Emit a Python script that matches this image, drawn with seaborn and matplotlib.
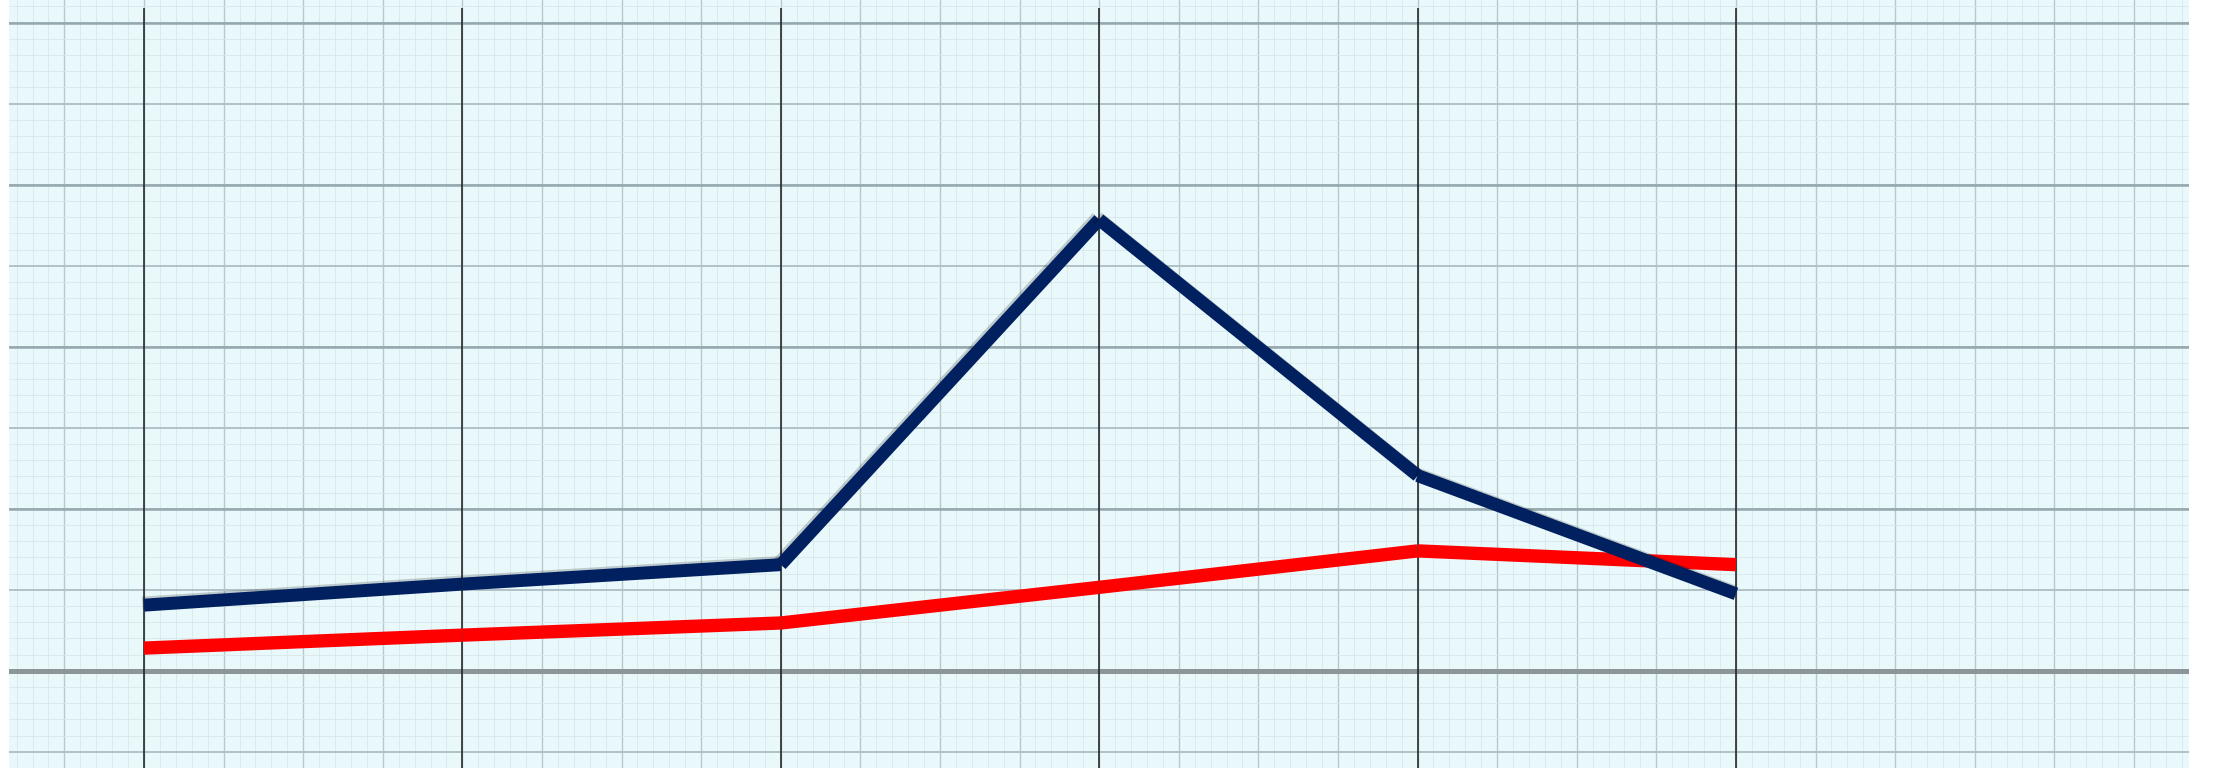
import matplotlib
matplotlib.use('Agg')
import matplotlib.pyplot as plt
import matplotlib.patheffects as pe
import seaborn as sns
import numpy as np
from matplotlib.ticker import MultipleLocator

# positions of the six marked columns and the two traced series
columns = [1, 2, 3, 4, 5, 6]
navy_values = [0.81, 1.07, 1.31, 5.57, 2.41, 0.95]
red_values = [0.28, 0.44, 0.59, 1.03, 1.48, 1.31]

sns.set_style('white')

fig = plt.figure(figsize=(22.13, 7.68), dpi=100)
fig.patch.set_facecolor('white')
ax = fig.add_axes([9 / 2213, 0, 2180 / 2213, 1])
ax.set_facecolor('#e9f8fa')

ax.set_xlim(0.576, 7.423)
ax.set_ylim(-1.20, 8.28)

# graph paper grid
ax.xaxis.set_major_locator(MultipleLocator(0.25))
ax.xaxis.set_minor_locator(MultipleLocator(0.05))
ax.yaxis.set_major_locator(MultipleLocator(1))
ax.yaxis.set_minor_locator(MultipleLocator(0.2))
ax.grid(which='minor', color='#d8e7ea', lw=0.6)
ax.grid(which='major', axis='x', color='#b7c9cd', lw=1.0)
ax.grid(which='major', axis='y', color='#b0c2c7', lw=1.4)
for yv in np.arange(2, 9, 2):
    ax.axhline(yv, color='#95a8ae', lw=1.8, zorder=0.9)
ax.axhline(0, color='#8c9699', lw=3.6, zorder=0.9)
ax.tick_params(which='both', length=0, labelbottom=False, labelleft=False)
for s in ax.spines.values():
    s.set_visible(False)

# black column markers
ax.vlines(columns, -1.20, 8.18, color='#1a1a1a', lw=1.1, zorder=2)

# traced lines, each segment drawn on its own like the original
shadow = [pe.SimpleLineShadow(offset=(-1.2, 1.5), shadow_color='black', alpha=0.18),
          pe.Normal()]
for i in range(len(columns) - 1):
    sns.lineplot(x=columns[i:i + 2], y=red_values[i:i + 2], ax=ax,
                 color='#ff0000', lw=9.6, solid_capstyle='butt', zorder=3)
    sns.lineplot(x=columns[i:i + 2], y=navy_values[i:i + 2], ax=ax,
                 color='#002060', lw=9.3, solid_capstyle='butt', zorder=4,
                 path_effects=shadow)

ax.set_xlabel('')
ax.set_ylabel('')
fig.savefig('out.png', dpi=100, facecolor='white')
